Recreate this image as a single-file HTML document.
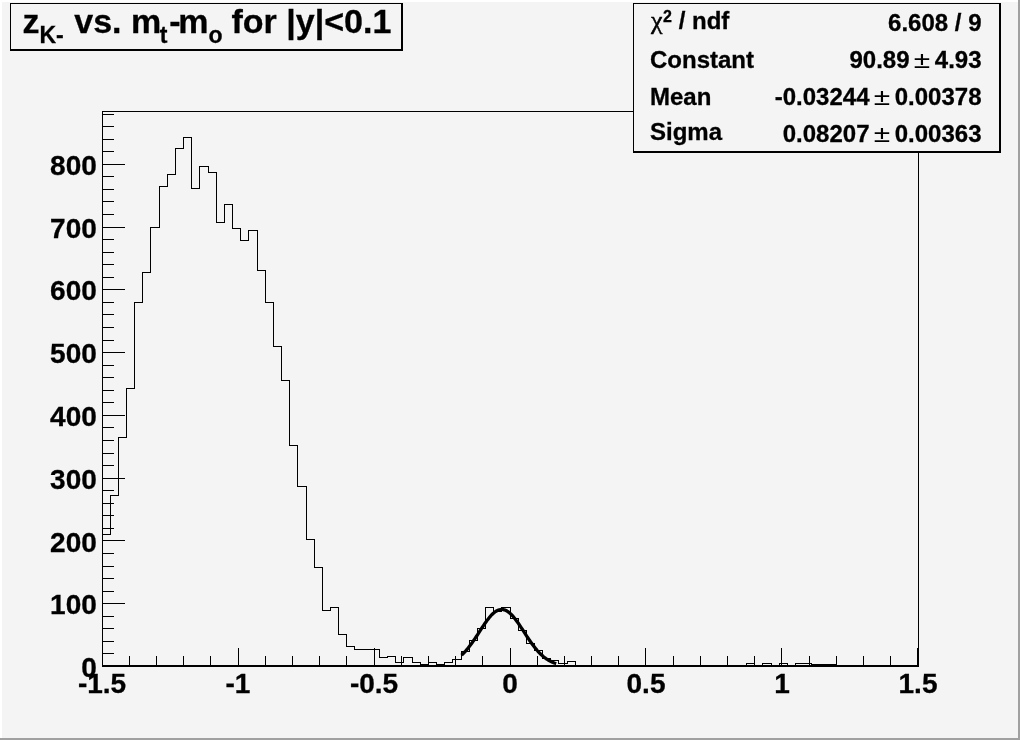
<!DOCTYPE html>
<html><head><meta charset="utf-8"><title>z K- vs. mt-mo</title>
<style>
html,body{margin:0;padding:0;background:#f4f4f4;}
body{width:1020px;height:740px;overflow:hidden;position:relative;}
svg{position:absolute;left:0;top:0;display:block;}
text{font-family:"Liberation Sans", Arial, Helvetica, sans-serif;font-weight:bold;fill:#000;stroke:#000;stroke-width:0.3px;}
</style></head><body>
<svg width="1020" height="740" viewBox="0 0 1020 740">
<rect x="0" y="0" width="1020" height="740" fill="#f4f4f4"/>
<!-- canvas bevel -->
<g shape-rendering="crispEdges">
<rect x="0" y="0" width="1020" height="2" fill="#ffffff"/>
<rect x="0" y="0" width="2" height="740" fill="#ffffff"/>
<rect x="0" y="738" width="1020" height="2" fill="#a0a0a0"/>
<rect x="1018" y="0" width="2" height="740" fill="#a0a0a0"/>
<!-- frame -->
<rect x="102.5" y="111.5" width="816" height="555" fill="none" stroke="#000" stroke-width="1"/>
<path d="M102,665.5H919" stroke="#000" stroke-width="1" fill="none"/>
<path d="M102.5,666V648 M129.5,666V656 M156.5,666V656 M183.5,666V656 M210.5,666V656 M238.5,666V648 M265.5,666V656 M292.5,666V656 M319.5,666V656 M346.5,666V656 M374.5,666V648 M401.5,666V656 M428.5,666V656 M455.5,666V656 M482.5,666V656 M510.5,666V648 M537.5,666V656 M564.5,666V656 M591.5,666V656 M618.5,666V656 M645.5,666V648 M673.5,666V656 M700.5,666V656 M727.5,666V656 M754.5,666V656 M781.5,666V648 M809.5,666V656 M836.5,666V656 M863.5,666V656 M890.5,666V656 M917.5,666V648 M102,666.5H125 M102,653.5H114 M102,641.5H114 M102,628.5H114 M102,616.5H114 M102,603.5H125 M102,591.5H114 M102,578.5H114 M102,566.5H114 M102,553.5H114 M102,540.5H125 M102,528.5H114 M102,515.5H114 M102,503.5H114 M102,490.5H114 M102,478.5H125 M102,465.5H114 M102,453.5H114 M102,440.5H114 M102,427.5H114 M102,415.5H125 M102,402.5H114 M102,390.5H114 M102,377.5H114 M102,365.5H114 M102,352.5H125 M102,340.5H114 M102,327.5H114 M102,314.5H114 M102,302.5H114 M102,289.5H125 M102,277.5H114 M102,264.5H114 M102,252.5H114 M102,239.5H114 M102,227.5H125 M102,214.5H114 M102,201.5H114 M102,189.5H114 M102,176.5H114 M102,164.5H125 M102,151.5H114 M102,139.5H114 M102,126.5H114 M102,114.5H114" stroke="#000" stroke-width="1" fill="none"/>
<path d="M102.5,666.5 V534.5H110.5 V495.5H118.5 V437.5H126.5 V388.5H134.5 V302.5H142.5 V272.5H150.5 V227.5H159.5 V186.5H167.5 V174.5H175.5 V148.5H183.5 V137.5H191.5 V188.5H199.5 V166.5H208.5 V172.5H216.5 V222.5H224.5 V204.5H232.5 V228.5H240.5 V240.5H248.5 V230.5H257.5 V270.5H265.5 V302.5H273.5 V346.5H281.5 V380.5H289.5 V445.5H297.5 V486.5H306.5 V539.5H314.5 V567.5H322.5 V610.5H330.5 V607.5H338.5 V634.5H346.5 V646.5H354.5 V649.5H363.5 V649.5H371.5 V649.5H379.5 V657.5H387.5 V656.5H395.5 V662.5H403.5 V657.5H412.5 V662.5H420.5 V664.5H428.5 V662.5H436.5 V664.5H444.5 V662.5H452.5 V659.5H461.5 V651.5H469.5 V640.5H477.5 V628.5H485.5 V607.5H493.5 V611.5H501.5 V607.5H510.5 V618.5H518.5 V630.5H526.5 V643.5H534.5 V650.5H542.5 V658.5H550.5 V660.5H558.5 V663.5H567.5 V661.5H575.5 V666.5H583.5 V666.5H591.5 V666.5H599.5 V666.5H607.5 V666.5H616.5 V666.5H624.5 V666.5H632.5 V666.5H640.5 V666.5H648.5 V666.5H656.5 V666.5H665.5 V666.5H673.5 V666.5H681.5 V666.5H689.5 V666.5H697.5 V666.5H705.5 V666.5H714.5 V666.5H722.5 V666.5H730.5 V666.5H738.5 V666.5H746.5 V663.5H754.5 V665.5H762.5 V663.5H771.5 V665.5H779.5 V663.5H787.5 V665.5H795.5 V663.5H803.5 V663.5H811.5 V664.5H820.5 V664.5H828.5 V664.5H836.5 V666.5H844.5 V666.5H852.5 V666.5H860.5 V666.5H869.5 V666.5H877.5 V666.5H885.5 V666.5H893.5 V666.5H901.5 V666.5H909.5 V666.5H918.5 V666.5" stroke="#000" stroke-width="1" fill="none"/>
<!-- title box -->
<rect x="10" y="3" width="393" height="48" fill="#f4f4f4"/>
<rect x="10" y="3" width="393" height="1" fill="#000"/><rect x="10" y="3" width="1" height="48" fill="#000"/>
<rect x="10" y="49" width="393" height="2" fill="#000"/><rect x="401" y="3" width="2" height="48" fill="#000"/>
<!-- stat box -->
<rect x="633" y="3" width="368" height="150" fill="#f4f4f4"/>
<rect x="633" y="3" width="368" height="1" fill="#000"/><rect x="633" y="3" width="1" height="150" fill="#000"/>
<rect x="633" y="151" width="368" height="2" fill="#000"/><rect x="999" y="3" width="2" height="150" fill="#000"/>
</g>
<path d="M461.54,655.17 L462.49,654.28 L463.43,653.35 L464.38,652.37 L465.33,651.35 L466.27,650.28 L467.22,649.16 L468.17,648.01 L469.11,646.81 L470.06,645.57 L471.01,644.30 L471.95,642.99 L472.90,641.64 L473.85,640.27 L474.79,638.87 L475.74,637.45 L476.68,636.01 L477.63,634.56 L478.58,633.09 L479.52,631.63 L480.47,630.16 L481.42,628.70 L482.36,627.25 L483.31,625.82 L484.26,624.42 L485.20,623.04 L486.15,621.70 L487.10,620.40 L488.04,619.15 L488.99,617.95 L489.94,616.81 L490.88,615.74 L491.83,614.73 L492.78,613.80 L493.72,612.95 L494.67,612.19 L495.62,611.51 L496.56,610.92 L497.51,610.43 L498.46,610.03 L499.40,609.74 L500.35,609.54 L501.30,609.45 L502.24,609.46 L503.19,609.57 L504.14,609.79 L505.08,610.10 L506.03,610.52 L506.97,611.03 L507.92,611.63 L508.87,612.33 L509.81,613.11 L510.76,613.98 L511.71,614.92 L512.65,615.94 L513.60,617.03 L514.55,618.18 L515.49,619.39 L516.44,620.65 L517.39,621.96 L518.33,623.31 L519.28,624.69 L520.23,626.10 L521.17,627.54 L522.12,628.99 L523.07,630.45 L524.01,631.91 L524.96,633.38 L525.91,634.84 L526.85,636.29 L527.80,637.73 L528.75,639.15 L529.69,640.54 L530.64,641.91 L531.59,643.25 L532.53,644.55 L533.48,645.82 L534.43,647.05 L535.37,648.24 L536.32,649.39 L537.26,650.49 L538.21,651.55 L539.16,652.56 L540.10,653.53 L541.05,654.46 L542.00,655.34 L542.94,656.17 L543.89,656.96 L544.84,657.70 L545.78,658.40 L546.73,659.06 L547.68,659.67 L548.62,660.25 L549.57,660.79 L550.52,661.29 L551.46,661.76 L552.41,662.19 L553.36,662.59 L554.30,662.96 L555.25,663.30 L556.20,663.61" stroke="#000" stroke-width="3.3" fill="none" stroke-linejoin="round" stroke-linecap="butt"/>
<text x="22.5" y="32.6" font-size="34">z<tspan dy="10" font-size="23">K-</tspan><tspan dy="-10" dx="1"> vs. m</tspan><tspan dy="10" font-size="23" dx="-1.5">t</tspan><tspan dy="-10" dx="1.8">-</tspan><tspan dx="-2.3">m</tspan><tspan dy="10" font-size="23">o</tspan><tspan dy="-10" dx="-0.4"> for |y|&lt;0.1</tspan></text>
<text x="96.8" y="677.1" text-anchor="end" font-size="28">0</text>
<text x="96.8" y="614.3" text-anchor="end" font-size="28">100</text>
<text x="96.8" y="551.5" text-anchor="end" font-size="28">200</text>
<text x="96.8" y="488.8" text-anchor="end" font-size="28">300</text>
<text x="96.8" y="426.0" text-anchor="end" font-size="28">400</text>
<text x="96.8" y="363.2" text-anchor="end" font-size="28">500</text>
<text x="96.8" y="300.4" text-anchor="end" font-size="28">600</text>
<text x="96.8" y="237.7" text-anchor="end" font-size="28">700</text>
<text x="96.8" y="174.9" text-anchor="end" font-size="28">800</text>
<text x="102.0" y="693" text-anchor="middle" font-size="28">-1.5</text>
<text x="238.0" y="693" text-anchor="middle" font-size="28">-1</text>
<text x="374.0" y="693" text-anchor="middle" font-size="28">-0.5</text>
<text x="510.0" y="693" text-anchor="middle" font-size="28">0</text>
<text x="646.0" y="693" text-anchor="middle" font-size="28">0.5</text>
<text x="782.0" y="693" text-anchor="middle" font-size="28">1</text>
<text x="918.0" y="693" text-anchor="middle" font-size="28">1.5</text>
<text x="651" y="29" font-size="24"><tspan font-family="'Liberation Serif', 'DejaVu Serif', serif" font-style="normal" font-weight="normal" font-size="26" stroke="#000" stroke-width="0.5">χ</tspan><tspan x="663" y="22" font-size="16">2</tspan><tspan x="672" y="29"> / ndf</tspan></text>
<text x="981.5" y="30.5" text-anchor="end" font-size="24">6.608 / 9</text>
<text x="650" y="68" font-size="24">Constant</text>
<text x="981.5" y="68" text-anchor="end" font-size="24">4.93</text>
<text transform="translate(922.0,68) scale(1.3,1)" x="0" y="0" text-anchor="middle" font-size="23" style="font-weight:normal;stroke:none">±</text>
<text x="909.5" y="68" text-anchor="end" font-size="24">90.89</text>
<text x="650" y="105" font-size="24">Mean</text>
<text x="981.5" y="105" text-anchor="end" font-size="24">0.00378</text>
<text transform="translate(882.0,105) scale(1.3,1)" x="0" y="0" text-anchor="middle" font-size="23" style="font-weight:normal;stroke:none">±</text>
<text x="869.5" y="105" text-anchor="end" font-size="24">-0.03244</text>
<text x="650" y="139.7" font-size="24">Sigma</text>
<text x="981.5" y="142" text-anchor="end" font-size="24">0.00363</text>
<text transform="translate(882.0,142) scale(1.3,1)" x="0" y="0" text-anchor="middle" font-size="23" style="font-weight:normal;stroke:none">±</text>
<text x="869.5" y="142" text-anchor="end" font-size="24">0.08207</text>
</svg>
</body></html>
